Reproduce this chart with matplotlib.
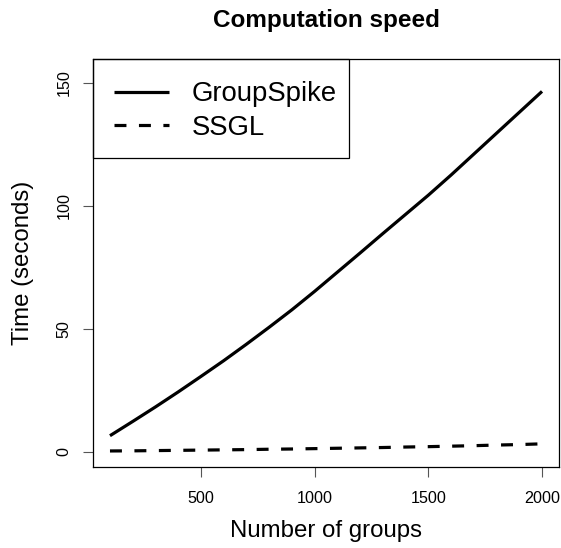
import matplotlib
matplotlib.use("Agg")
import matplotlib.pyplot as plt
from matplotlib.patches import Rectangle

plt.rcParams['font.family'] = ['Liberation Sans', 'DejaVu Sans']
plt.rcParams['lines.scale_dashes'] = False

groups = [100, 200, 300, 400, 500, 600, 700, 800, 900, 1000,
          1100, 1200, 1300, 1400, 1500, 1600, 1700, 1800, 1900, 2000]
groupspike = [6.5, 12.3, 18.2, 24.3, 30.6, 37.0, 43.7, 50.6, 57.7, 65.2,
              73.0, 80.8, 88.7, 96.5, 104.3, 112.5, 121.0, 129.5, 138.0, 146.5]
ssgl = [0.3, 0.35, 0.45, 0.55, 0.65, 0.75, 0.85, 1.0, 1.1, 1.25,
        1.4, 1.55, 1.7, 1.9, 2.05, 2.25, 2.45, 2.7, 2.9, 3.2]
xticks = [500, 1000, 1500, 2000]
yticks = [0, 50, 100, 150]
series_names = ["GroupSpike", "SSGL"]

W, H = 561, 548
fig = plt.figure(figsize=(W / 100, H / 100), dpi=100)
left, right, top, bottom = 92.7, 559.3, 58.7, 466.7
ax = fig.add_axes([left / W, 1 - bottom / H, (right - left) / W, (bottom - top) / H])

lw = 2.3
l1, = ax.plot(groups, groupspike, color='black', lw=lw, solid_capstyle='butt')
l2, = ax.plot(groups, ssgl, color='black', lw=lw, dashes=(8.6, 9.0), dash_capstyle='butt')

ax.set_xlim(24, 2076)
ax.set_ylim(-6.1, 159.8)
ax.set_xticks(xticks)
ax.set_xticklabels([str(v) for v in xticks])
ax.set_yticks(yticks)
ax.set_yticklabels([str(v) for v in yticks], rotation=90, va='center')
ax.tick_params(axis='both', direction='out', length=7.2, width=0.8, labelsize=11.6, color='#555555')
ax.tick_params(axis='x', pad=10.5)
ax.tick_params(axis='y', pad=8.2)
for s in ax.spines.values():
    s.set_linewidth(0.9)

ax.set_xlabel("Number of groups", fontsize=17.3, labelpad=10)
ax.set_ylabel("Time (seconds)", fontsize=17.3, labelpad=16)
ax.set_title("Computation speed", fontsize=17.5, fontweight='bold', pad=23)

leg = ax.legend([l1, l2], series_names, loc='upper left', bbox_to_anchor=(0.045, 0.945),
                frameon=False, fontsize=19.8, handlelength=2.0, handletextpad=0.85,
                borderpad=0, borderaxespad=0, labelspacing=0.28)
# legend box
ax.add_patch(Rectangle((0, 1 - (158 - top) / (bottom - top)), (348.7 - left) / (right - left),
                       (158 - top) / (bottom - top), transform=ax.transAxes,
                       fill=False, edgecolor='black', lw=0.9, clip_on=False))

fig.savefig("out.png", dpi=100)
